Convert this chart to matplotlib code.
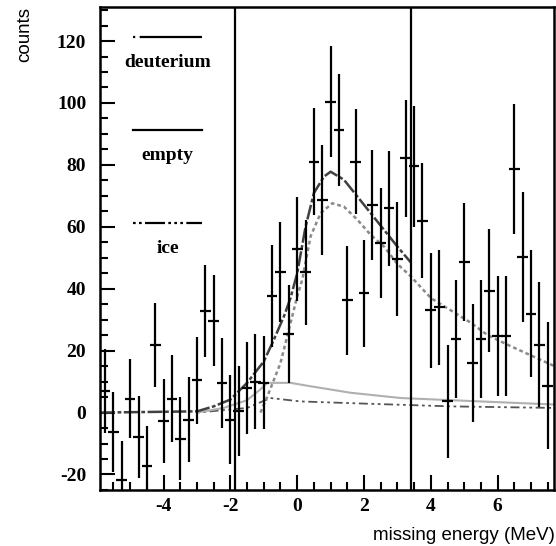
import numpy as np
import matplotlib
matplotlib.use("Agg")
import matplotlib.pyplot as plt
from matplotlib.ticker import MultipleLocator

plt.rcParams['axes.unicode_minus'] = False

# measured spectrum (bin centre in MeV, counts, error)
energy = [-5.75, -5.5, -5.25, -5.0, -4.75, -4.5, -4.25, -4.0, -3.75, -3.5,
          -3.25, -3.0, -2.75, -2.5, -2.25, -2.0, -1.75, -1.5, -1.25, -1.0,
          -0.75, -0.5, -0.25, 0.0, 0.25, 0.5, 0.75, 1.0, 1.25, 1.5,
          1.75, 2.0, 2.25, 2.5, 2.75, 3.0, 3.25, 3.5, 3.75, 4.0,
          4.25, 4.5, 4.75, 5.0, 5.25, 5.5, 5.75, 6.0, 6.25, 6.5,
          6.75, 7.0, 7.25, 7.5]
counts = [6.9, -6.3, -21.8, 4.5, -7.8, -17.3, 21.9, -2.8, 4.5, -8.4,
          -2.3, 10.4, 32.9, 29.7, 9.6, -2.3, 0.4, 8.0, 10.0, 9.6,
          37.7, 45.3, 25.4, 52.8, 45.3, 81.0, 68.7, 100.4, 91.3, 36.2,
          81.0, 38.6, 67.1, 54.7, 66.0, 49.6, 82.1, 79.5, 62.0, 33.0,
          34.0, 3.6, 23.8, 48.6, 16.0, 23.8, 39.4, 24.6, 24.6, 78.6,
          50.4, 31.9, 21.9, 8.7]
errors = [13.5, 13.0, 12.5, 12.8, 13.3, 13.0, 13.6, 13.5, 14.0, 13.5,
          13.7, 14.0, 14.8, 14.8, 14.5, 14.4, 14.5, 14.8, 15.3, 15.0,
          16.4, 16.2, 15.9, 16.8, 17.0, 17.3, 17.8, 18.0, 18.0, 17.6,
          17.0, 17.3, 17.8, 17.8, 18.5, 18.4, 19.0, 19.6, 18.5, 18.5,
          18.5, 18.2, 19.0, 19.0, 19.0, 19.0, 19.8, 19.4, 19.4, 21.0,
          21.0, 20.5, 20.2, 20.6]

# fit curves
total_x = [-5.9, -3.0, -2.5, -2.0, -1.5, -1.0, -0.7, -0.4, -0.2, 0.0, 0.25,
           0.5, 0.8, 1.0, 1.4, 1.8, 2.2, 2.6, 3.0, 3.4]
total_y = [0.0, 0.4, 2.0, 4.2, 9.6, 16.5, 23.5, 31.0, 37.0, 45.0, 60.0,
           70.9, 76.2, 77.8, 75.2, 69.8, 64.4, 59.0, 53.6, 48.5]
deut_x = [-1.1, -0.9, -0.5, 0.0, 0.15, 0.4, 0.7, 1.05, 1.4, 1.8, 2.2, 2.6,
          3.0, 3.4, 4.0, 5.2, 5.7, 6.4, 7.7]
deut_y = [0.0, 5.0, 16.0, 37.5, 42.9, 56.9, 64.4, 67.6, 66.5, 62.3, 57.4,
          53.6, 48.0, 44.0, 37.0, 29.0, 25.0, 21.4, 15.0]
empty_x = [-3.0, -2.2, -1.5, -1.1, -0.9, -0.2, 0.4, 1.6, 3.1, 4.6, 7.7]
empty_y = [0.0, 1.5, 4.0, 7.5, 9.6, 9.6, 8.5, 6.4, 4.7, 4.0, 2.6]
ice_x = [-3.0, -1.5, -0.8, 0.1, 2.0, 4.6, 7.7]
ice_y = [0.0, 1.5, 4.7, 3.6, 2.9, 2.0, 1.5]

# fit window
window = [-1.85, 3.42]

legend_labels = ["deuterium", "empty", "ice"]
legend_styles = [(0, (1, 2, 60, 0.1)), "-", (0, (1.2, 1.5, 1.2, 1.5, 9, 1.5, 1.2, 1.5))]

fig = plt.figure(figsize=(5.56, 5.46), dpi=100)
ax = fig.add_axes([0.18, 0.1026, 0.816, 0.8846])

ax.plot(ice_x, ice_y, color="#555555", lw=1.3, ls=(0, (1.5, 2, 1.5, 2, 5, 2)))
ax.plot(empty_x, empty_y, color="#b0b0b0", lw=1.5)
ax.plot(deut_x, deut_y, color="#8a8a8a", lw=1.8, ls=(0, (1.5, 1.2)))
ax.plot(total_x, total_y, color="#404040", lw=1.8, ls=(0, (6, 1, 1.5, 1)))

ax.errorbar(energy, counts, yerr=errors, xerr=0.16, fmt="none",
            ecolor="black", elinewidth=1.6, capsize=0)

for w in window:
    ax.axvline(w, color="black", lw=1.6)

# legend: line sample above its label
for i, (lab, ls) in enumerate(zip(legend_labels, legend_styles)):
    ly = [0.938, 0.745, 0.553][i]
    ax.plot([0.073, 0.225], [ly, ly], transform=ax.transAxes, color="black", lw=1.6, ls=ls)
    ax.text(0.149, ly - 0.052, lab, transform=ax.transAxes, ha="center", va="center",
            fontsize=14, fontweight="bold", family="Liberation Serif")

ax.set_xlim(-5.9, 7.68)
ax.set_ylim(-25, 131)
ax.xaxis.set_major_locator(MultipleLocator(2))
ax.xaxis.set_minor_locator(MultipleLocator(0.5))
ax.yaxis.set_major_locator(MultipleLocator(20))
ax.yaxis.set_minor_locator(MultipleLocator(5))
ax.tick_params(which="both", direction="in", width=1.5, top=False, right=False)
ax.tick_params(which="major", length=11)
ax.tick_params(which="minor", length=6)
ax.tick_params(axis="y", pad=10)
ax.tick_params(axis="x", pad=6)
for lbl in ax.get_xticklabels() + ax.get_yticklabels():
    lbl.set_family("Liberation Serif")
    lbl.set_fontsize(14)
    lbl.set_fontweight("bold")
for s in ax.spines.values():
    s.set_linewidth(1.8)

fig.text(0.045, 0.937, "counts", rotation=90, ha="center", va="center", fontsize=13.5,
         family="Liberation Sans")
fig.text(0.998, 0.02, "missing energy (MeV)", ha="right", va="center", fontsize=13.5,
         family="Liberation Sans")

fig.savefig("out.png", dpi=100)
